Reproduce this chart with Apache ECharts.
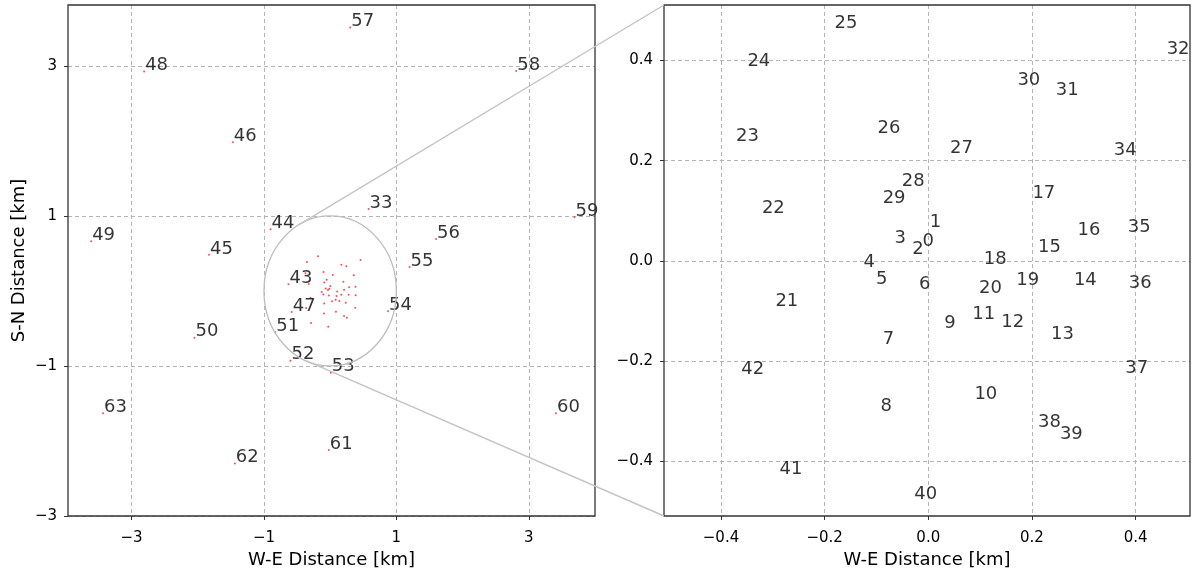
<!DOCTYPE html>
<html><head><meta charset="utf-8">
<script src="https://cdn.jsdelivr.net/npm/echarts@6/dist/echarts.min.js"></script>
<style>html,body{margin:0;padding:0;background:#fff}#c{width:1193px;height:574px}</style>
</head><body><div id="c"></div>
<script>
const stationIds = [0,1,2,3,4,5,6,7,8,9,10,11,12,13,14,15,16,17,18,19,20,21,22,23,24,25,26,27,28,29,30,31,32,33,34,35,36,37,38,39,40,41,42,43,44,45,46,47,48,49,50,51,52,53,54,55,56,57,58,59,60,61,62,63];
const stationX = [-0.013,0.001,-0.033,-0.067,-0.127,-0.103,-0.020,-0.090,-0.094,0.029,
  0.087,0.083,0.139,0.235,0.279,0.210,0.286,0.199,0.105,0.168,
  0.096,-0.297,-0.323,-0.373,-0.351,-0.183,-0.100,0.040,-0.053,-0.090,
  0.170,0.244,0.458,0.58,0.356,0.383,0.385,0.378,0.210,0.252,
  -0.029,-0.289,-0.363,-0.63,-0.90,-1.83,-1.47,-0.58,-2.81,-3.61,
  -2.05,-0.83,-0.60,0.01,0.874,1.20,1.60,0.303,2.81,3.69,
  3.41,-0.02,-1.44,-3.43];
const stationY = [0.027,0.064,0.011,0.032,-0.016,-0.049,-0.060,-0.169,-0.302,-0.137,
  -0.279,-0.119,-0.135,-0.159,-0.052,0.015,0.048,0.123,-0.009,-0.051,
  -0.067,-0.093,0.093,0.236,0.386,0.462,0.253,0.212,0.147,0.112,
  0.349,0.328,0.411,1.09,0.208,0.054,-0.058,-0.226,-0.335,-0.359,
  -0.479,-0.429,-0.228,0.09,0.82,0.48,1.98,-0.28,2.925,0.66,
  -0.625,-0.55,-0.93,-1.09,-0.27,0.32,0.69,3.51,2.93,0.98,
  -1.63,-2.12,-2.30,-1.63];
const overviewLabeled = [33,43,44,45,46,47,48,49,50,51,52,53,54,55,56,57,58,59,60,61,62,63];
const overviewXTicks = [-3,-1,1,3];
const overviewYTicks = [-3,-1,1,3];
const zoomXTicks = [-0.4,-0.2,0,0.2,0.4];
const zoomYTicks = [-0.4,-0.2,0,0.2,0.4];
const overviewXRange = [-3.96, 4.0];
const overviewYRange = [-3, 3.81];
const zoomXRange = [-0.51, 0.505];
const zoomYRange = [-0.51, 0.511];
const zoomRadius = 1;
const xTitle = 'W-E Distance [km]';
const yTitle = 'S-N Distance [km]';

const FONT = 'DejaVu Sans';
const chart = echarts.init(document.getElementById('c'), null, {renderer: 'canvas'});

function fmt(dec) {
  return function (v) {
    const s = Math.abs(v).toFixed(dec);
    return (v < -1e-9 ? '\u2212' : '') + s;
  };
}
function axis(gridIndex, range, ticks, name, dec, isX) {
  return {
    type: 'value', gridIndex: gridIndex, min: range[0], max: range[1],
    name: name, nameLocation: 'middle', nameGap: isX ? 35 : 40,
    nameTextStyle: {fontFamily: FONT, fontSize: 18, color: '#000'},
    axisLine: {show: false, onZero: false},
    axisTick: {show: true, inside: false, length: 4, customValues: ticks, lineStyle: {color: '#333', width: 1}},
    axisLabel: {show: true, customValues: ticks, formatter: fmt(dec), margin: isX ? 15 : 11,
      fontFamily: FONT, fontSize: 15, color: '#000'},
    splitLine: {show: true, lineStyle: {color: '#b4b4b4', width: 1, type: [4, 3]}}
  };
}

const leftData = stationIds.map(function (id, i) {
  return {value: [stationX[i], stationY[i], id], label: {show: overviewLabeled.indexOf(id) >= 0}};
});
const rightData = [];
stationIds.forEach(function (id, i) {
  if (stationX[i] >= zoomXRange[0] && stationX[i] <= zoomXRange[1] &&
      stationY[i] >= zoomYRange[0] && stationY[i] <= zoomYRange[1]) {
    rightData.push({value: [stationX[i], stationY[i], id]});
  }
});

function labelCfg(half) {
  return {
    show: true, position: [half, half], align: 'left', verticalAlign: 'bottom', offset: [1, 3],
    formatter: function (p) { return String(p.value[2]); },
    fontFamily: FONT, fontSize: 18, color: '#000'
  };
}

chart.setOption({
  animation: false,
  backgroundColor: '#fff',
  grid: [
    {left: 68, top: 5, width: 527, height: 513, show: true, borderColor: '#333', borderWidth: 1.3, backgroundColor: 'transparent', z: 3},
    {left: 664, top: 5, width: 526, height: 513, show: true, borderColor: '#333', borderWidth: 1.3, backgroundColor: 'transparent', z: 3}
  ],
  xAxis: [
    axis(0, overviewXRange, overviewXTicks, xTitle, 0, true),
    axis(1, zoomXRange, zoomXTicks, xTitle, 1, true)
  ],
  yAxis: [
    axis(0, overviewYRange, overviewYTicks, yTitle, 0, false),
    axis(1, zoomYRange, zoomYTicks, '', 1, false)
  ],
  series: [
    {type: 'scatter', xAxisIndex: 0, yAxisIndex: 0, symbolSize: 2,
     itemStyle: {color: '#ff2020'}, data: leftData, label: labelCfg(1), emphasis: {disabled: true}},
    {type: 'scatter', xAxisIndex: 1, yAxisIndex: 1, symbolSize: 2,
     itemStyle: {color: 'rgba(0,0,0,0)'}, data: rightData, label: labelCfg(1), emphasis: {disabled: true}}
  ]
});

// circle of the zoomed area and the connecting tangent lines
const C = chart.convertToPixel({gridIndex: 0}, [0, 0]);
const E = chart.convertToPixel({gridIndex: 0}, [zoomRadius, zoomRadius]);
const rx = Math.abs(E[0] - C[0]), ry = Math.abs(E[1] - C[1]);
const TL = chart.convertToPixel({gridIndex: 1}, [zoomXRange[0], zoomYRange[1]]);
const BL = chart.convertToPixel({gridIndex: 1}, [zoomXRange[0], zoomYRange[0]]);
function tangent(P, upper) {
  const ux = (P[0] - C[0]) / rx, uy = (P[1] - C[1]) / ry;
  const d = Math.hypot(ux, uy), base = Math.atan2(uy, ux), delta = Math.acos(1 / d);
  const pts = [base + delta, base - delta].map(function (a) {
    return [C[0] + rx * Math.cos(a), C[1] + ry * Math.sin(a)];
  });
  pts.sort(function (a, b) { return a[1] - b[1]; });
  return upper ? pts[0] : pts[1];
}
const T1 = tangent(TL, true), T2 = tangent(BL, false);
const lineStyle = {stroke: '#c4c4c4', lineWidth: 1.4, fill: null};
chart.setOption({
  graphic: [
    {type: 'ellipse', shape: {cx: C[0], cy: C[1], rx: rx, ry: ry}, style: {stroke: '#bdbdbd', lineWidth: 1.3, fill: null}, z: 10},
    {type: 'line', shape: {x1: T1[0], y1: T1[1], x2: TL[0], y2: TL[1]}, style: lineStyle, z: 10},
    {type: 'line', shape: {x1: T2[0], y1: T2[1], x2: BL[0], y2: BL[1]}, style: lineStyle, z: 10}
  ]
});
</script></body></html>
